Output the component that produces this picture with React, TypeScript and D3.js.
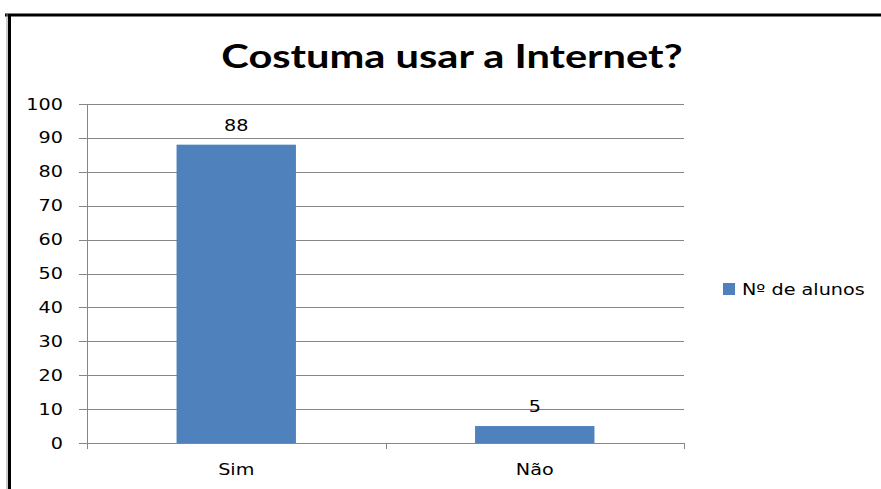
import React from "react";
import * as d3 from "d3";

const categories = ["Sim", "Não"];
const values = [88, 5];
const yTicks = [0, 10, 20, 30, 40, 50, 60, 70, 80, 90, 100];
const seriesName = "Nº de alunos";
const title = "Costuma usar a Internet?";

const SX = 1.28;
function T(props: { x: number; y: number; anchor?: string; size?: number; weight?: string; family?: string; sx?: number; children: React.ReactNode }) {
  const { x, y, anchor = "start", size = 15, weight = "normal", family = "'DejaVu Sans', Verdana, sans-serif", sx = SX } = props;
  return (
    <text transform={`translate(${x},${y}) scale(${sx},1)`} textAnchor={anchor} fontFamily={family} fontSize={size} fontWeight={weight} fill="#000">
      {props.children}
    </text>
  );
}

export default function App() {
  const W = 881, H = 489;
  const left = 87, right = 684, top = 104, bottom = 443;
  const x = d3.scaleBand<string>().domain(categories).range([left, right]).paddingInner(0.6).paddingOuter(0.3);
  const xb = d3.scaleBand<string>().domain(categories).range([left, right]);
  const y = d3.scaleLinear().domain([0, 100]).range([bottom, top]);
  return (
    <svg width={W} height={H} style={{ position: "absolute", left: 0, top: 0, background: "#fff" }}>
      <rect x={0} y={0} width={W} height={H} fill="#fff" />
      <line x1={5} y1={15} x2={W} y2={15} stroke="#000" strokeWidth={3} />
      <line x1={9.5} y1={14} x2={9.5} y2={H} stroke="#000" strokeWidth={3} />
      <line x1={7} y1={14} x2={7} y2={H} stroke="#999" strokeWidth={1} />
      <T x={452} y={68} anchor="middle" size={32} weight="bold" family="Lato, 'Open Sans', sans-serif" sx={1.3}>{title}</T>
      {yTicks.map((t) => (
        <g key={t}>
          {t > 0 && <line x1={left} x2={right} y1={Math.round(y(t)) + 0.5} y2={Math.round(y(t)) + 0.5} stroke="#868686" strokeWidth={1} />}
          <line x1={left - 8} x2={left} y1={Math.round(y(t)) + 0.5} y2={Math.round(y(t)) + 0.5} stroke="#868686" strokeWidth={1} />
          <T x={63} y={y(t) + 5.5} anchor="end">{t}</T>
        </g>
      ))}
      {categories.map((c, i) => (
        <g key={c}>
          <rect x={x(c)} y={y(values[i])} width={x.bandwidth()} height={bottom - y(values[i])} fill="#4F81BD" />
          <T x={x(c)! + x.bandwidth() / 2} y={y(values[i]) - 14} anchor="middle">{values[i]}</T>
          <T x={xb(c)! + xb.bandwidth() / 2} y={475} anchor="middle">{c}</T>
        </g>
      ))}
      <line x1={left + 0.5} x2={left + 0.5} y1={top} y2={bottom + 6} stroke="#868686" strokeWidth={1} />
      <line x1={left} x2={right} y1={bottom + 0.5} y2={bottom + 0.5} stroke="#868686" strokeWidth={1} />
      {[...categories.map((c) => xb(c)!), right].slice(1).map((t, i) => (
        <line key={i} x1={Math.round(t) + 0.5} x2={Math.round(t) + 0.5} y1={bottom} y2={bottom + 6} stroke="#868686" strokeWidth={1} />
      ))}
      <rect x={723} y={283} width={12} height={12} fill="#4F81BD" />
      <T x={742} y={295}>{seriesName}</T>
    </svg>
  );
}
